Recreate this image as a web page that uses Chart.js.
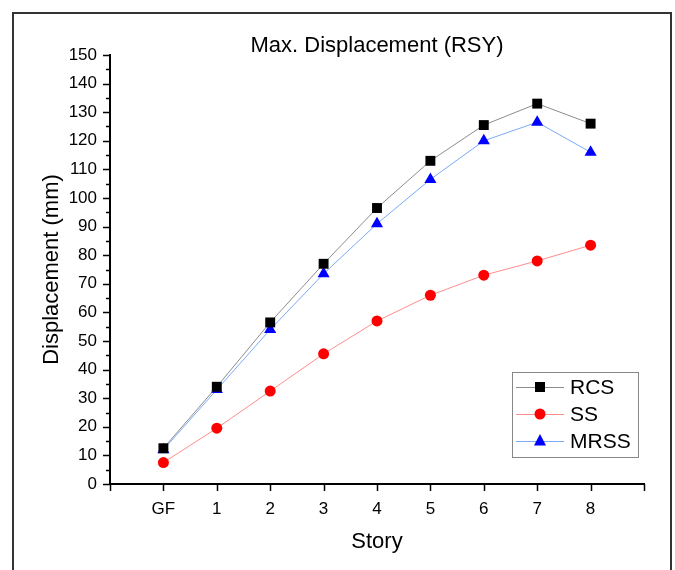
<!DOCTYPE html>
<html>
<head>
<meta charset="utf-8">
<script src="https://cdn.jsdelivr.net/npm/chart.js@4/dist/chart.umd.min.js"></script>
<style>
  html, body { margin: 0; padding: 0; background: #fff; }
  #wrap { width: 675px; height: 570px; position: relative; }
</style>
</head>
<body>
<div id="wrap"><canvas id="chart" width="675" height="570"></canvas></div>
<script>
// Data
const stories = ['GF', '1', '2', '3', '4', '5', '6', '7', '8'];
const rcs  = [12.5, 34, 56.5, 77, 96.5, 113, 125.5, 133, 126];
const ss   = [7.5, 19.5, 32.5, 45.5, 57, 66, 73, 78, 83.5];
const mrss = [12, 33, 54, 73.5, 91, 106.5, 120, 126.5, 116];
const yMin = 0, yMax = 150, yStep = 10;
const xMin = -1, xMax = 9;

const FONT = "'Liberation Sans', Arial, sans-serif";

const toPoints = arr => arr.map((v, i) => ({ x: i, y: v }));

// frame, title, tick marks (major + minor) and boxed legend
const decorPlugin = {
    id: 'decor',
    afterDraw(chart) {
        const ctx = chart.ctx;
        const area = chart.chartArea;
        const xs = chart.scales.x, ys = chart.scales.y;
        ctx.save();

        // outer frame (no bottom edge visible)
        ctx.strokeStyle = '#333';
        ctx.lineWidth = 2;
        ctx.beginPath();
        ctx.moveTo(13, 580);
        ctx.lineTo(13, 13);
        ctx.lineTo(671, 13);
        ctx.lineTo(671, 580);
        ctx.stroke();

        // title
        ctx.fillStyle = '#000';
        ctx.font = '22px ' + FONT;
        ctx.textAlign = 'center';
        ctx.textBaseline = 'middle';
        ctx.fillText('Max. Displacement (RSY)', (area.left + area.right) / 2, 46);

        // tick marks
        ctx.strokeStyle = '#000';
        ctx.lineWidth = 1.5;
        ctx.beginPath();
        for (let v = yMin; v <= yMax; v += yStep / 2) {
            const y = Math.round(ys.getPixelForValue(v)) + 0.5;
            const len = (v % yStep === 0) ? 7 : 4;
            ctx.moveTo(area.left, y);
            ctx.lineTo(area.left - len, y);
        }
        for (let v = xMin; v <= xMax; v++) {
            const x = Math.round(xs.getPixelForValue(v)) + 0.5;
            ctx.moveTo(x, area.bottom);
            ctx.lineTo(x, area.bottom + 7);
        }
        ctx.stroke();

        // legend
        const bx = 512, by = 372, bw = 126, bh = 85;
        ctx.strokeStyle = '#888';
        ctx.lineWidth = 1;
        ctx.strokeRect(bx + 0.5, by + 0.5, bw, bh);
        ctx.font = '21px ' + FONT;
        ctx.textAlign = 'left';
        ctx.textBaseline = 'middle';
        chart.data.datasets.forEach((ds, i) => {
            const cy = by + 15 + i * 27;
            ctx.strokeStyle = ds.borderColor;
            ctx.lineWidth = 1;
            ctx.beginPath();
            ctx.moveTo(bx + 4, cy + 0.5);
            ctx.lineTo(bx + 52, cy + 0.5);
            ctx.stroke();
            const mx = bx + 28;
            ctx.fillStyle = ds.pointBackgroundColor;
            ctx.beginPath();
            if (ds.pointStyle === 'rect') {
                ctx.rect(mx - 5, cy - 5, 10, 10);
            } else if (ds.pointStyle === 'circle') {
                ctx.arc(mx, cy, 5.5, 0, Math.PI * 2);
            } else {
                ctx.moveTo(mx, cy - 7);
                ctx.lineTo(mx + 6, cy + 4.5);
                ctx.lineTo(mx - 6, cy + 4.5);
                ctx.closePath();
            }
            ctx.fill();
            ctx.fillStyle = '#000';
            ctx.fillText(ds.label, bx + 58, cy + 1);
        });
        ctx.restore();
    }
};

new Chart(document.getElementById('chart'), {
    type: 'line',
    data: {
        datasets: [
            {
                label: 'RCS', data: toPoints(rcs),
                borderColor: '#8c8c8c', borderWidth: 1,
                pointStyle: 'rect', pointRadius: 7,
                pointBackgroundColor: '#000', pointBorderColor: '#000', pointBorderWidth: 0
            },
            {
                label: 'SS', data: toPoints(ss),
                borderColor: '#ff8c8c', borderWidth: 1,
                pointStyle: 'circle', pointRadius: 5.5,
                pointBackgroundColor: '#ff0000', pointBorderColor: '#ff0000', pointBorderWidth: 0
            },
            {
                label: 'MRSS', data: toPoints(mrss),
                borderColor: '#7aaaf5', borderWidth: 1,
                pointStyle: 'triangle', pointRadius: 7,
                pointBackgroundColor: '#0000ff', pointBorderColor: '#0000ff', pointBorderWidth: 0
            }
        ]
    },
    options: {
        responsive: false,
        devicePixelRatio: 1,
        animation: false,
        layout: { padding: { top: 55, right: 31, bottom: 0, left: 0 } },
        plugins: {
            legend: { display: false },
            title: { display: false },
            tooltip: { enabled: false }
        },
        scales: {
            x: {
                type: 'linear',
                min: xMin, max: xMax,
                afterFit: s => { s.height = 86; },
                grid: { display: false, drawTicks: false },
                border: { display: true, color: '#000', width: 2 },
                ticks: {
                    stepSize: 1,
                    autoSkip: false,
                    maxRotation: 0,
                    padding: 15,
                    color: '#000',
                    font: { family: FONT, size: 17 },
                    callback: v => stories[v] ?? ''
                },
                title: {
                    display: true, text: 'Story', color: '#000',
                    font: { family: FONT, size: 22 },
                    padding: { top: 0, bottom: 15 }
                }
            },
            y: {
                min: yMin, max: yMax,
                afterFit: s => { s.width = 110; },
                grid: { display: false, drawTicks: false },
                border: { display: true, color: '#000', width: 2 },
                ticks: {
                    stepSize: yStep,
                    padding: 13,
                    color: '#000',
                    font: { family: FONT, size: 17 }
                },
                title: {
                    display: true, text: 'Displacement (mm)', color: '#000',
                    font: { family: FONT, size: 22 },
                    padding: { top: 39, bottom: 0 }
                }
            }
        }
    },
    plugins: [decorPlugin]
});
</script>
</body>
</html>
